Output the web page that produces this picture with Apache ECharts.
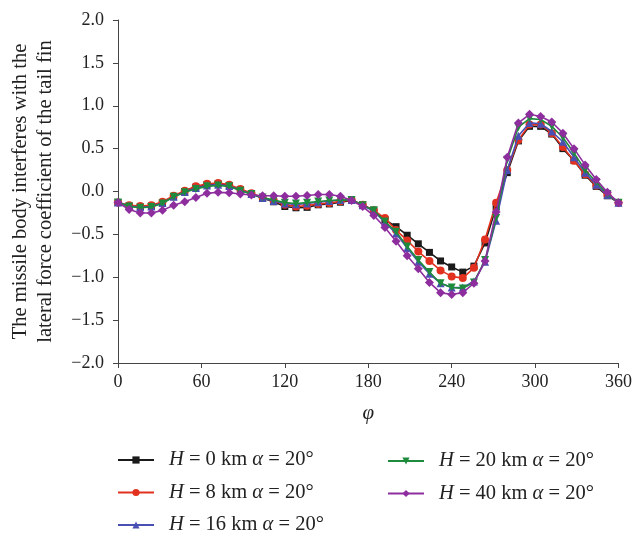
<!DOCTYPE html>
<html>
<head>
<meta charset="utf-8">
<script src="https://cdn.jsdelivr.net/npm/echarts@6/dist/echarts.min.js"></script>
<style>
html,body{margin:0;padding:0;background:#fff;}
#c{width:635px;height:540px;}
</style>
</head>
<body>
<div id="c"></div>
<script>
const phi = [0,8,16,24,32,40,48,56,64,72,80,88,96,104,112,120,128,136,144,152,160,168,176,184,192,200,208,216,224,232,240,248,256,264,272,280,288,296,304,312,320,328,336,344,352,360];
const xTicks = [0,60,120,180,240,300,360];
const yTicks = [-2.0,-1.5,-1.0,-0.5,0.0,0.5,1.0,1.5,2.0];

const seriesNames = ['H = 0 km α = 20°','H = 8 km α = 20°','H = 16 km α = 20°','H = 20 km α = 20°','H = 40 km α = 20°'];

const h0 = [-0.128,-0.17,-0.18,-0.17,-0.13,-0.06,0.0,0.05,0.08,0.09,0.07,0.02,-0.03,-0.08,-0.12,-0.175,-0.19,-0.185,-0.155,-0.145,-0.125,-0.105,-0.155,-0.22,-0.33,-0.41,-0.51,-0.61,-0.71,-0.81,-0.88,-0.94,-0.87,-0.60,-0.18,0.22,0.59,0.76,0.76,0.67,0.50,0.36,0.19,0.06,-0.05,-0.13];
const h8 = [-0.128,-0.16,-0.17,-0.16,-0.12,-0.05,0.01,0.06,0.09,0.10,0.08,0.03,-0.02,-0.07,-0.11,-0.155,-0.175,-0.165,-0.145,-0.135,-0.115,-0.10,-0.155,-0.22,-0.31,-0.45,-0.57,-0.70,-0.81,-0.92,-0.99,-1.01,-0.89,-0.56,-0.13,0.25,0.60,0.78,0.78,0.68,0.52,0.36,0.20,0.07,-0.04,-0.13];
const h16 = [-0.128,-0.17,-0.185,-0.175,-0.135,-0.06,-0.005,0.04,0.07,0.08,0.065,0.015,-0.03,-0.075,-0.11,-0.14,-0.15,-0.14,-0.125,-0.11,-0.10,-0.10,-0.16,-0.23,-0.36,-0.49,-0.66,-0.82,-0.96,-1.07,-1.12,-1.12,-1.05,-0.82,-0.34,0.25,0.65,0.80,0.79,0.70,0.58,0.40,0.22,0.08,-0.04,-0.13];
const h20 = [-0.128,-0.175,-0.19,-0.18,-0.14,-0.06,-0.01,0.03,0.06,0.07,0.06,0.01,-0.03,-0.07,-0.10,-0.13,-0.14,-0.13,-0.117,-0.105,-0.10,-0.10,-0.16,-0.22,-0.35,-0.47,-0.64,-0.80,-0.94,-1.07,-1.12,-1.13,-1.06,-0.80,-0.31,0.37,0.75,0.85,0.84,0.76,0.63,0.45,0.25,0.11,-0.03,-0.13];
const h40 = [-0.128,-0.21,-0.25,-0.25,-0.22,-0.16,-0.12,-0.07,-0.02,-0.01,-0.015,-0.03,-0.04,-0.05,-0.05,-0.055,-0.055,-0.047,-0.035,-0.035,-0.055,-0.105,-0.175,-0.28,-0.42,-0.58,-0.75,-0.90,-1.06,-1.18,-1.20,-1.18,-1.07,-0.81,-0.24,0.40,0.80,0.90,0.875,0.81,0.68,0.50,0.31,0.14,-0.01,-0.13];

const colors = ['#1a1a1a','#e2321f','#4a4fb3','#1e8b3c','#8e2e9e'];
const symbols = ['rect','circle','triangle','path://M0,10 L10,10 L5,0 Z','diamond'];
const symSizes = [7,8,8,8,9];
const values = [h0,h8,h16,h20,h40];

const serif = '"Liberation Serif","DejaVu Serif",serif';
const minus = v => String(v).replace('-', '\u2212');

const series = values.map((vals, i) => ({
  name: seriesNames[i],
  type: 'line',
  data: phi.map((p, k) => [p, vals[k]]),
  symbol: symbols[i],
  symbolSize: symSizes[i],
  symbolRotate: i === 3 ? 180 : 0,
  showAllSymbol: true,
  lineStyle: {color: colors[i], width: 1.6},
  itemStyle: {color: colors[i]},
  z: 2 + i
}));

const legendFmt = n => n.replace('H', '{i|H}').replace('α', '{i|α}');
const legendText = {
  fontFamily: serif, fontSize: 20.5, color: '#222', lineHeight: 22,
  padding: [0,0,0,10],
  rich: { i: {fontFamily: serif, fontSize: 20.5, fontStyle: 'italic', color: '#222', lineHeight: 22} }
};

const chart = echarts.init(document.getElementById('c'));
chart.setOption({
  animation: false,
  backgroundColor: '#fff',
  grid: {left: 116, right: 14, top: 20, bottom: 177},
  legend: [
    {data: seriesNames.slice(0,3), orient: 'vertical', left: 117, top: 449, height: 90, padding: 0, itemWidth: 36, itemHeight: 9, itemGap: 10.5, formatter: legendFmt, textStyle: legendText},
    {data: seriesNames.slice(3), orient: 'vertical', left: 387, top: 450, height: 90, padding: 0, itemWidth: 36, itemHeight: 9, itemGap: 10.5, formatter: legendFmt, textStyle: legendText}
  ],
  xAxis: {
    type: 'value', min: xTicks[0], max: xTicks[xTicks.length-1], interval: 60,
    name: 'φ', nameLocation: 'middle', nameGap: 40,
    nameTextStyle: {fontFamily: serif, fontSize: 21, fontStyle: 'italic', color: '#222'},
    axisLine: {onZero: false, lineStyle: {color: '#444', width: 1}},
    axisTick: {show: true, length: 5, lineStyle: {color: '#444'}},
    axisLabel: {fontFamily: serif, fontSize: 18, color: '#222', margin: 10, formatter: v => minus(v)},
    splitLine: {show: false}
  },
  yAxis: {
    type: 'value', min: yTicks[0], max: yTicks[yTicks.length-1], interval: 0.5,
    name: 'The missile body interferes with the\nlateral force coefficient of the tail fin',
    nameLocation: 'middle', nameGap: 60, nameRotate: 90,
    nameTextStyle: {fontFamily: serif, fontSize: 20.5, color: '#222', lineHeight: 25},
    axisLine: {show: true, onZero: false, lineStyle: {color: '#444', width: 1}},
    axisTick: {show: true, length: 5, lineStyle: {color: '#444'}},
    axisLabel: {fontFamily: serif, fontSize: 18, color: '#222', margin: 14, formatter: v => minus(v.toFixed(1))},
    splitLine: {show: false}
  },
  series: series
});
</script>
</body>
</html>
